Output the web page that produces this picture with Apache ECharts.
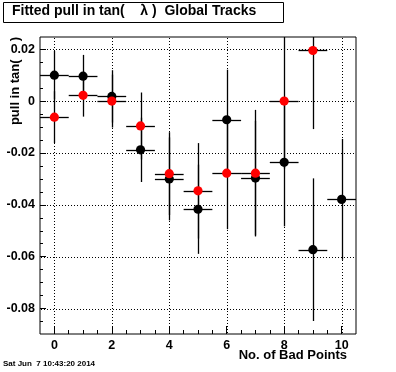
<!DOCTYPE html>
<html>
<head>
<meta charset="utf-8">
<script src="https://cdn.jsdelivr.net/npm/echarts@6/dist/echarts.min.js"></script>
<style>
html,body{margin:0;padding:0;background:#fff;}
#chart{width:396px;height:372px;}
</style>
</head>
<body>
<div id="chart"></div>
<script>
// ---- data ----
const blackX = [0, 1, 2, 3, 4, 5, 6, 7, 8, 9, 10];
const blackY = [0.0100, 0.0096, 0.0018, -0.0188, -0.0300, -0.0417, -0.0072, -0.0297, -0.0236, -0.0573, -0.0379];
const blackErr = [0.0093, 0.0082, 0.0101, 0.0124, 0.0160, 0.0172, 0.0193, 0.0221, 0.0247, 0.0275, 0.0233];
const redX = [0, 1, 2, 3, 4, 5, 6, 7, 8, 9];
const redY = [-0.0062, 0.0022, 0.0000, -0.0096, -0.0280, -0.0346, -0.0278, -0.0278, 0.0000, 0.0195];
const redErr = [0.0100, 0.0082, 0.0102, 0.0129, 0.0160, 0.0184, 0.0216, 0.0244, 0.0260, 0.0303];
const xErr = 0.5;
const xMajorTicks = [0, 2, 4, 6, 8, 10];
const xMinorTicks = [0.5, 1, 1.5, 2.5, 3, 3.5, 4.5, 5, 5.5, 6.5, 7, 7.5, 8.5, 9, 9.5];
const yMajorTicks = [-0.08, -0.06, -0.04, -0.02, 0, 0.02];
const yMinorTicks = [-0.085, -0.075, -0.07, -0.065, -0.055, -0.05, -0.045, -0.035, -0.03, -0.025, -0.015, -0.01, -0.005, 0.005, 0.01, 0.015];
const titleText = 'Fitted pull in tan(    \u03bb )  Global Tracks';
const xTitle = 'No. of Bad Points';
const yTitle = 'pull in tan(     )';
const dateText = 'Sat Jun  7 10:43:20 2014';

const FONT = "'Liberation Sans', Arial, Helvetica, sans-serif";
const X_MIN = -0.5, X_MAX = 10.5, Y_MIN = -0.0898, Y_MAX = 0.0247;

function buildData(xs, ys, es) {
  return xs.map((x, i) => [x, ys[i], es[i], xErr]);
}

function makeRender(color) {
  return function (params, api) {
    const cs = params.coordSys;
    const x0 = cs.x, x1 = cs.x + cs.width, y0 = cs.y, y1 = cs.y + cs.height;
    const clampX = v => Math.max(x0, Math.min(x1, v));
    const clampY = v => Math.max(y0, Math.min(y1, v));
    const x = api.value(0), y = api.value(1), e = api.value(2), xe = api.value(3);
    const c = api.coord([x, y]);
    const top = api.coord([x, y + e]);
    const bot = api.coord([x, y - e]);
    const lft = api.coord([x - xe, y]);
    const rgt = api.coord([x + xe, y]);
    const children = [];
    const cx = Math.round(c[0]) + 0.5;
    const cy = Math.round(c[1]) + 0.5;
    children.push({
      type: 'line',
      shape: { x1: cx, y1: clampY(top[1]), x2: cx, y2: clampY(bot[1]) },
      style: { stroke: '#000', lineWidth: 1.3 }
    });
    children.push({
      type: 'line',
      shape: { x1: clampX(lft[0]), y1: cy, x2: clampX(rgt[0]), y2: cy },
      style: { stroke: '#000', lineWidth: 1.3 }
    });
    if (c[1] >= y0 && c[1] <= y1) {
      children.push({
        type: 'circle',
        shape: { cx: c[0], cy: c[1], r: 4.6 },
        style: { fill: color }
      });
    }
    return { type: 'group', children: children };
  };
}

// grid lines: each item is [xValue, yValue, kind] ; kind 0 = vertical line, 1 = horizontal line
const gridData = xMajorTicks.map(v => [v, 0, 0]).concat(yMajorTicks.map(v => [0, v, 1]));
function renderGrid(params, api) {
  const cs = params.coordSys;
  const kind = api.value(2);
  const dots = [];
  const step = 3;
  if (kind === 0) {
    const px = Math.round(api.coord([api.value(0), 0])[0]);
    for (let yy = Math.ceil(cs.y) + 1; yy < cs.y + cs.height - 1; yy += step) {
      dots.push({ type: 'rect', shape: { x: px, y: yy, width: 1, height: 1 }, style: { fill: '#000' } });
    }
  } else {
    const py = Math.round(api.coord([0, api.value(1)])[1]);
    for (let xx = Math.ceil(cs.x) + 1; xx < cs.x + cs.width - 1; xx += step) {
      dots.push({ type: 'rect', shape: { x: xx, y: py, width: 1, height: 1 }, style: { fill: '#000' } });
    }
  }
  return { type: 'group', children: dots };
}

const axisBase = {
  type: 'value',
  axisLine: { show: false, onZero: false },
  splitLine: { show: false },
};

const chart = echarts.init(document.getElementById('chart'));
chart.setOption({
  animation: false,
  grid: {
    left: 40, right: 40, top: 37, bottom: 38,
    show: true, borderColor: '#000', borderWidth: 1
  },
  xAxis: [
    Object.assign({}, axisBase, {
      min: X_MIN, max: X_MAX, position: 'bottom',
      axisTick: { show: true, inside: true, length: 8, customValues: xMajorTicks, lineStyle: { color: '#000', width: 1 } },
      axisLabel: {
        show: true, customValues: xMajorTicks, margin: 5,
        color: '#000', fontFamily: FONT, fontWeight: 'bold', fontSize: 12.5,
        formatter: v => String(v)
      }
    }),
    Object.assign({}, axisBase, {
      min: X_MIN, max: X_MAX, position: 'bottom',
      axisTick: { show: true, inside: true, length: 4, customValues: xMinorTicks, lineStyle: { color: '#000', width: 1 } },
      axisLabel: { show: false }
    })
  ],
  yAxis: [
    Object.assign({}, axisBase, {
      min: Y_MIN, max: Y_MAX, position: 'left',
      axisTick: { show: true, inside: true, length: 6, customValues: yMajorTicks, lineStyle: { color: '#000', width: 1 } },
      axisLabel: {
        show: true, customValues: yMajorTicks, margin: 5,
        color: '#000', fontFamily: FONT, fontWeight: 'bold', fontSize: 12.5,
        formatter: v => (Math.abs(v) < 1e-9 ? '0' : v.toFixed(2))
      }
    }),
    Object.assign({}, axisBase, {
      min: Y_MIN, max: Y_MAX, position: 'left',
      axisTick: { show: true, inside: true, length: 3, customValues: yMinorTicks, lineStyle: { color: '#000', width: 1 } },
      axisLabel: { show: false }
    })
  ],
  series: [
    {
      type: 'custom', z: 2,
      renderItem: renderGrid,
      data: gridData
    },
    {
      type: 'custom', z: 3,
      renderItem: makeRender('#000'),
      data: buildData(blackX, blackY, blackErr)
    },
    {
      type: 'custom', z: 4,
      renderItem: makeRender('#ff0000'),
      data: buildData(redX, redY, redErr)
    }
  ],
  graphic: [
    {
      type: 'rect', left: 3, top: 2, z: 10,
      shape: { width: 280, height: 20 },
      style: { fill: '#fff', stroke: '#000', lineWidth: 1 }
    },
    {
      type: 'text', left: 12, top: 4, z: 11,
      style: { text: titleText, fill: '#000', font: 'bold 14px ' + FONT }
    },
    {
      type: 'text', right: 49, top: 349, z: 11,
      style: { text: xTitle, fill: '#000', font: 'bold 13px ' + FONT }
    },
    {
      type: 'text', z: 11, x: 9, y: 37, rotation: Math.PI / 2,
      style: { text: yTitle, fill: '#000', font: 'bold 13px ' + FONT, align: 'right', verticalAlign: 'top' }
    },
    {
      type: 'text', left: 3, top: 360, z: 11,
      style: { text: dateText, fill: '#000', font: 'bold 8px ' + FONT }
    }
  ]
});
</script>
</body>
</html>
